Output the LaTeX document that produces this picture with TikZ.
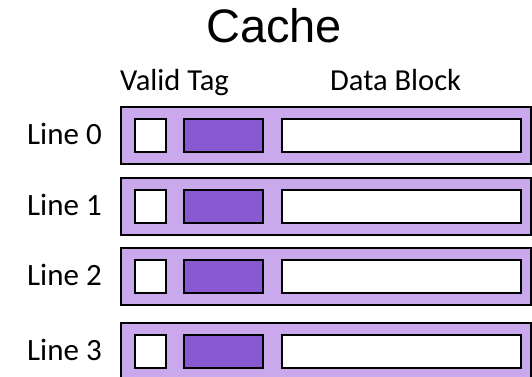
\documentclass[tikz,border=0pt]{standalone}
\usepackage{fontspec}
\setmainfont{Carlito}
\newfontfamily\titlefont{Liberation Sans}
\definecolor{lineback}{HTML}{C9A9EC}
\definecolor{tagfill}{HTML}{8859D1}
\begin{document}
\begin{tikzpicture}[x=1pt,y=-1pt,
  cacheline/.style={draw=black, line width=2.4pt, fill=lineback, inner sep=0pt,
    minimum width=410pt, minimum height=57pt, anchor=north west},
  validbit/.style={draw=black, line width=2.4pt, fill=white, inner sep=0pt,
    minimum width=31pt, minimum height=33pt, anchor=north west},
  tagfield/.style={draw=black, line width=2.4pt, fill=tagfill, inner sep=0pt,
    minimum width=79pt, minimum height=33pt, anchor=north west},
  datafield/.style={draw=black, line width=2.4pt, fill=white, inner sep=0pt,
    minimum width=239pt, minimum height=33pt, anchor=north west},
  rowlabel/.style={font=\fontsize{31}{33}\selectfont, inner sep=0pt, anchor=base east},
  header/.style={font=\fontsize{30.5}{33}\selectfont, inner sep=0pt, anchor=base west}]
\useasboundingbox (0,0) rectangle (532,376);
\clip (0,0) rectangle (532,376);
% title and column headings
\node[font=\titlefont\fontsize{47}{50}\selectfont, inner sep=0pt, anchor=base] (title) at (274,42) {Cache};
\node[header] (validhead) at (120,90) {Valid Tag};
\node[header] (datahead) at (330,90) {Data Block};
% the four cache lines
\foreach \i/\t in {0/106,1/177,2/247,3/322} {
  \node[cacheline] (line\i) at (120,\t) {};
  \node[validbit] (valid\i) at (134,\t+12) {};
  \node[tagfield] (tag\i) at (183,\t+12) {};
  \node[datafield] (data\i) at (281,\t+12) {};
  \node[rowlabel] (label\i) at (102,\t+38) {Line \i};
}
\end{tikzpicture}
\end{document}
